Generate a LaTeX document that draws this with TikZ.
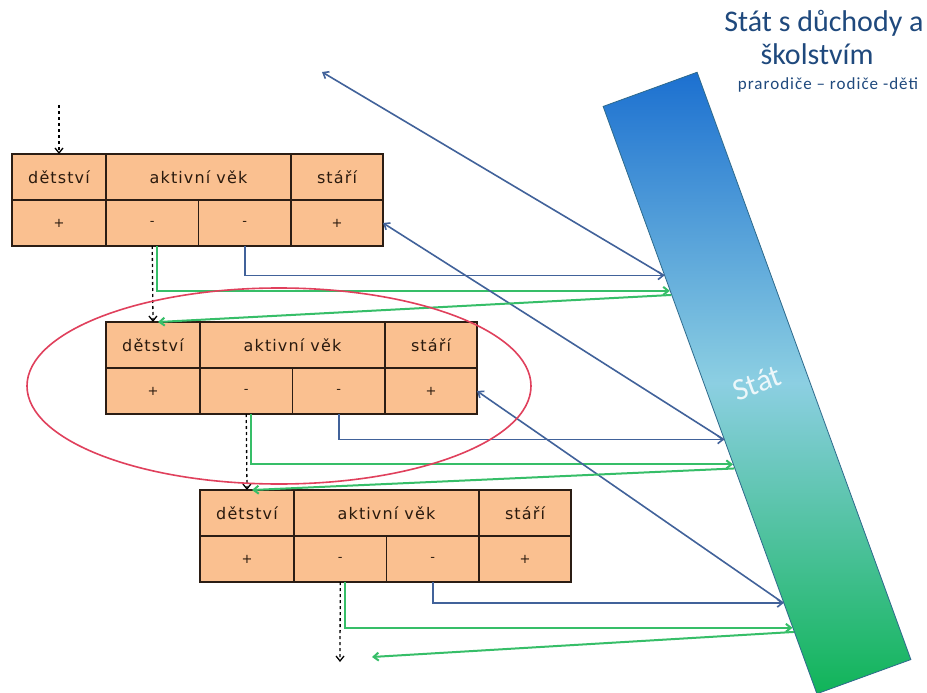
\documentclass[tikz,border=0pt]{standalone}
\usepackage{fontspec}
\setmainfont{Carlito}
\newfontfamily\cellfont[LetterSpace=7]{DejaVu Sans}
\usetikzlibrary{arrows,arrows.meta,calc}

\definecolor{cellorange}{HTML}{FAC090}
\definecolor{cellline}{HTML}{2B1D14}
\definecolor{celltext}{HTML}{2A1A0E}
\definecolor{titleblue}{HTML}{1F497D}
\definecolor{payblue}{HTML}{41629A}
\definecolor{getgreen}{HTML}{36BE68}
\definecolor{bartop}{HTML}{1C70D0}
\definecolor{barmid}{HTML}{8CCFE2}
\definecolor{barbottom}{HTML}{10B458}
\definecolor{barline}{HTML}{2E6A8C}
\definecolor{ringred}{HTML}{E0405C}

\tikzset{
	barb/.tip={Straight Barb[length=5pt, width=8pt]},
	cell/.style={draw=cellline, line width=1.6pt, fill=cellorange, outer sep=0pt, inner sep=0pt,
		minimum height=46, anchor=north west, text=celltext, font=\cellfont\fontsize{16}{19}\selectfont},
	sign/.style={cell, font=\cellfont\fontsize{13}{15}\selectfont},
	lineage/.style={black, dashed, line width=1.3pt, -barb},
	pays/.style={payblue, line width=1.6pt, -barb},
	gets/.style={getgreen, line width=2pt, -barb},
	ring/.style={ringred, line width=1.6pt},
	headline/.style={titleblue, anchor=base, font=\fontsize{30}{36}\selectfont},
	subline/.style={titleblue, anchor=base, font=\addfontfeature{LetterSpace=6}\fontsize{17}{20}\selectfont},
	statebar/.style={draw=barline, line width=0.8pt, minimum width=100, minimum height=625, rotate=20,
		top color=bartop, bottom color=barbottom, middle color=barmid,
		text=white, text opacity=0.85, font=\fontsize{31}{37}\selectfont}
}

% one generation: name, x, y of the upper left corner
\newcommand\generation[3]{
	% upper row
	\node[cell, minimum width=94] (#1-d) at (#2,#3) {dětství};
	\node[cell, minimum width=185] (#1-a) at (#1-d.north east) {aktivní věk};
	\node[cell, minimum width=92] (#1-s) at (#1-a.north east) {stáří};
	% lower row
	\node[sign, minimum width=94] (#1-p1) at (#1-d.south west) {+};
	\node[sign, minimum width=92.5] (#1-m1) at (#1-p1.north east) {-};
	\node[sign, minimum width=92.5] (#1-m2) at (#1-m1.north east) {-};
	\node[sign, minimum width=92] (#1-p2) at (#1-m2.north east) {+};
}

\begin{document}
\begin{tikzpicture}[x=1pt, y=-1pt]
	\path[use as bounding box, fill=white] (0,0) rectangle (927,693);

	% title
	\node[headline] (title) at (824,32) {Stát s důchody a};
	\node[headline] (title2) at (817,65) {školstvím};
	\node[subline] (subtitle) at (828,89) {prarodiče – rodiče -děti};

	% the state
	\node[statebar] (bar) at (757,383) {Stát};

	% generations
	\foreach \g/\x/\y in {1/12/154, 2/106/322, 3/200/490} {
		\generation{g\g}{\x}{\y}
	}

	% points on the state
	\foreach \g/\tp/\tg/\tb in {1/0.288/0.314/0.321, 2/0.567/0.609/0.616, 3/0.845/0.887/0.894} {
		\coordinate (pay\g) at ($(bar.north west)!\tp!(bar.south west)$);
		\coordinate (get\g) at ($(bar.north west)!\tg!(bar.south west)$);
		\coordinate (back\g) at ($(bar.north west)!\tb!(bar.south west)$);
	}

	% parents to children
	\coordinate (from) at (59,105);
	\coordinate (to) at (340,662);
	\draw[lineage] (from) -- (g1-d.north);
	\draw[lineage] (g1-m1.south) -- (g2-d.north);
	\draw[lineage] (g2-m1.south) -- (g3-d.north);
	\draw[lineage] (g3-m1.south) -- (to);

	% taxes
	\foreach \g in {1,2,3} {
		\draw[pays] (g\g-m2.south) |- (pay\g);
		\draw[gets] ([xshift=5pt]g\g-m1.south) |- (get\g);
	}

	% pensions
	\coordinate (elder) at (322,72);
	\draw[pays] (pay1) -- (elder);
	\draw[pays] (pay2) -- (g1-p2.east);
	\draw[pays] (pay3) -- (g2-p2.east);

	% schools
	\coordinate (child) at (372,657);
	\draw[gets] (back1) -- ([xshift=5pt]g2-d.north);
	\draw[gets] (back2) -- ([xshift=5pt]g3-d.north);
	\draw[gets] (back3) -- (child);

	% middle generation
	\draw[ring] (279,386) ellipse [x radius=252, y radius=98];
\end{tikzpicture}
\end{document}
